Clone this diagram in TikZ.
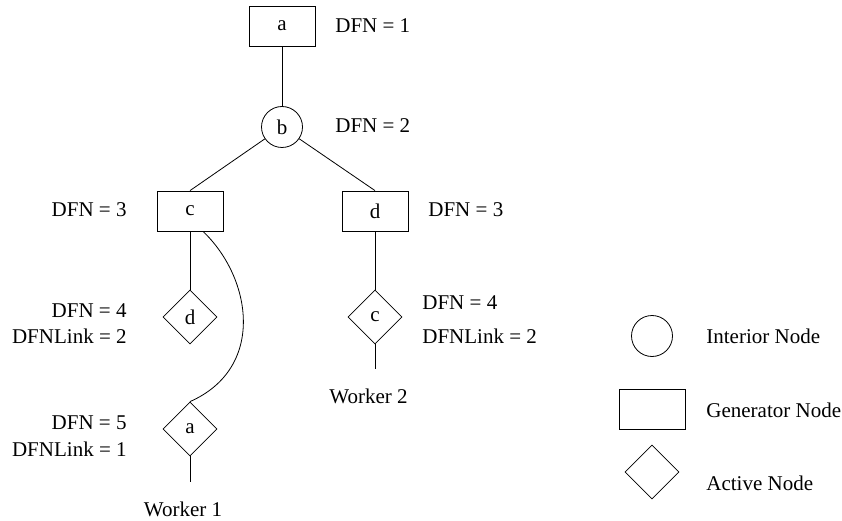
\documentclass[tikz,border=0pt]{standalone}
\usepackage{fontspec}
\setmainfont{Liberation Serif}
\usetikzlibrary{shapes.geometric}
\begin{document}
\begin{tikzpicture}[x=1pt,y=-1pt, line width=0.8pt,
  every node/.style={font=\fontsize{21}{25}\selectfont},
  gen/.style={draw, rectangle, minimum width=66pt, minimum height=40pt, inner sep=0pt},
  inter/.style={draw, circle, minimum size=41pt, inner sep=0pt},
  act/.style={draw, diamond, minimum width=54pt, minimum height=54pt, inner sep=0pt},
  lbl/.style={inner sep=0pt}]
\useasboundingbox (0,0) rectangle (842,521);
% tree nodes
\node[gen] (a) at (282,26) {a};
\node[inter] (b) at (282,127) {b};
\node[gen] (c) at (190,211) {c};
\node[gen] (d) at (375,211) {d};
\node[act] (dd) at (190,317) {d};
\node[act] (cc) at (375,317) {c};
\node[act] (aa) at (190,429) {a};
\coordinate (w1) at (190,482);
\coordinate (w2) at (375,369);
% connectors
\draw (a) -- (b);
\draw (b) -- (c.north);
\draw (b) -- (d.north);
\draw (c) -- (dd);
\draw (d) -- (cc);
\draw ([xshift=13pt]c.south) .. controls (252,278) and (266,368) .. (aa.north);
\draw (aa.south) -- (w1);
\draw (cc.south) -- (w2);
% labels
\node[lbl, anchor=base west] (l1) at (335,33) {DFN = 1};
\node[lbl, anchor=base west] (l2) at (335,133) {DFN = 2};
\node[lbl, anchor=base east] (l3) at (127,217) {DFN = 3};
\node[lbl, anchor=base west] (l4) at (428,217) {DFN = 3};
\node[lbl, anchor=base east] (l5) at (127,317) {DFN = 4};
\node[lbl, anchor=base east] (l6) at (127,343) {DFNLink = 2};
\node[lbl, anchor=base west] (l7) at (422,309) {DFN = 4};
\node[lbl, anchor=base west] (l8) at (422,343) {DFNLink = 2};
\node[lbl, anchor=base east] (l9) at (127,429) {DFN = 5};
\node[lbl, anchor=base east] (l10) at (127,456) {DFNLink = 1};
\node[lbl, anchor=base] (wk1) at (183,516) {Worker 1};
\node[lbl, anchor=base] (wk2) at (368.5,403) {Worker 2};
% legend
\node[inter] (lg1) at (652,336) {};
\node[gen] (lg2) at (652,409) {};
\node[act] (lg3) at (652,472) {};
\node[lbl, anchor=base west] (t1) at (706,343) {Interior Node};
\node[lbl, anchor=base west] (t2) at (706,417) {Generator Node};
\node[lbl, anchor=base west] (t3) at (706,490) {Active Node};
\end{tikzpicture}
\end{document}
